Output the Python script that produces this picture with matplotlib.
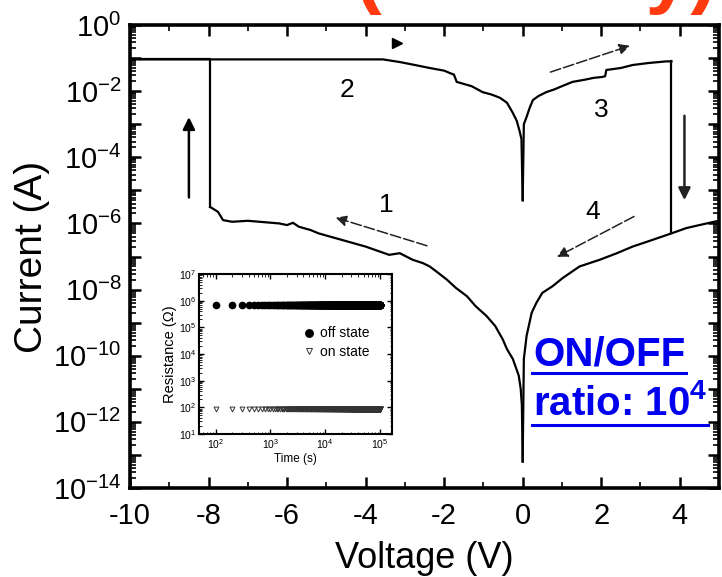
import numpy as np
import matplotlib
matplotlib.use("Agg")
import matplotlib.pyplot as plt
from matplotlib.ticker import LogLocator, FixedLocator, FuncFormatter, NullFormatter
from matplotlib.lines import Line2D

plt.rcParams['font.family'] = ['Liberation Sans', 'DejaVu Sans']
plt.rcParams['mathtext.fontset'] = 'custom'
plt.rcParams['mathtext.rm'] = 'Liberation Sans'
plt.rcParams['mathtext.it'] = 'Liberation Sans:italic'
plt.rcParams['mathtext.bf'] = 'Liberation Sans:bold'
plt.rcParams['axes.unicode_minus'] = False

# ---- I-V sweep data (voltage in V, log10 of current in A) ----
# sweep 1: OFF state, 0 V -> -8 V
v_sweep1 = [0.0, -0.02, -0.05, -0.1, -0.25, -0.4, -0.51, -0.7, -0.92, -1.2, -1.42,
            -1.7, -1.93, -2.2, -2.37, -2.54, -2.8, -3.13, -3.4, -3.64, -4.0, -4.3,
            -4.6, -4.9, -5.2, -5.4, -5.7, -5.85, -6.0, -6.2, -6.6, -7.0, -7.4,
            -7.63, -7.76, -7.96]
logi_sweep1 = [-13.2, -11.5, -11.0, -10.6, -10.1, -9.8, -9.5, -9.1, -8.8, -8.5, -8.2,
               -7.95, -7.7, -7.45, -7.3, -7.2, -7.1, -6.9, -6.95, -6.85, -6.7, -6.6,
               -6.5, -6.4, -6.3, -6.2, -6.1, -5.98, -6.05, -6.0, -5.96, -5.92, -5.95,
               -5.9, -5.65, -5.5]

# SET jump at -8 V and compliance-limited segment out to -10 V
v_set = [-7.96, -7.96, -10.0]
logi_set = [-5.5, -1.04, -1.04]

# sweep 2: ON state, -10 V -> 0 V
v_sweep2 = [-10.0, -3.56, -3.13, -2.7, -2.37, -2.0, -1.86, -1.75, -1.68, -1.3, -1.02,
            -0.8, -0.58, -0.4, -0.25, -0.15, -0.08, -0.03, 0.0]
logi_sweep2 = [-1.04, -1.04, -1.12, -1.22, -1.3, -1.38, -1.45, -1.5, -1.72, -1.85, -2.03,
               -2.1, -2.2, -2.35, -2.66, -2.9, -3.2, -3.45, -5.3]

# sweep 3: ON state, 0 V -> +3.8 V
v_sweep3 = [0.0, 0.03, 0.1, 0.18, 0.26, 0.4, 0.6, 0.8, 1.0, 1.27, 1.6, 1.8, 2.03,
            2.1, 2.13, 2.5, 2.8, 3.2, 3.66, 3.79]
logi_sweep3 = [-5.3, -3.0, -2.78, -2.5, -2.27, -2.15, -2.03, -1.95, -1.85, -1.72, -1.65,
               -1.6, -1.57, -1.55, -1.36, -1.3, -1.21, -1.15, -1.1, -1.1]

# RESET drop at +3.8 V
v_reset = [3.79, 3.79]
logi_reset = [-1.1, -6.3]

# sweep 4: OFF state, +5 V -> 0 V
v_sweep4 = [4.95, 4.84, 4.5, 4.17, 3.79, 3.3, 2.8, 2.4, 1.96, 1.45, 1.02, 0.76,
            0.5, 0.35, 0.23, 0.1, 0.03, 0.0]
logi_sweep4 = [-5.93, -5.96, -6.05, -6.14, -6.3, -6.5, -6.7, -6.9, -7.1, -7.3, -7.65,
               -7.9, -8.1, -8.4, -8.7, -9.4, -10.1, -13.2]

# ---- retention data for the inset ----
time_s = np.arange(100, 100001, 100)
r_off_ohm = 7e5
r_on_ohm = 9e1

x_ticks_major = [-10, -8, -6, -4, -2, 0, 2, 4]

fig = plt.figure(figsize=(7.22, 5.77), dpi=100)
ax = fig.add_axes([130 / 722, 1 - 488 / 577, 589 / 722, 463 / 577])

curve_kw = dict(color='black', lw=1.6, solid_joinstyle='round')
for v, li in [(v_sweep1, logi_sweep1), (v_set, logi_set), (v_sweep2, logi_sweep2),
              (v_sweep3, logi_sweep3), (v_reset, logi_reset), (v_sweep4, logi_sweep4)]:
    ax.plot(v, 10.0 ** np.asarray(li), **curve_kw)

ax.set_yscale('log')
ax.set_xlim(-10, 5)
ax.set_ylim(1e-14, 1e0)

ax.xaxis.set_major_locator(FixedLocator(x_ticks_major))
ax.xaxis.set_minor_locator(FixedLocator(np.arange(-9, 5, 2)))
ax.yaxis.set_major_locator(LogLocator(base=10, numticks=20))
ax.yaxis.set_minor_locator(LogLocator(base=10, subs=np.arange(2, 10), numticks=200))
ax.yaxis.set_minor_formatter(NullFormatter())


def ylab(val, pos):
    e = int(round(np.log10(val)))
    return r'$10^{%d}$' % e if e % 2 == 0 else ''


ax.yaxis.set_major_formatter(FuncFormatter(ylab))
ax.tick_params(which='both', direction='in', top=True, right=True)
ax.tick_params(which='major', length=8, width=1.8, labelsize=21)
ax.tick_params(which='minor', length=4, width=1.2)
ax.tick_params(axis='x', pad=10)
ax.tick_params(axis='y', pad=6)
for s in ax.spines.values():
    s.set_linewidth(2.6)

ax.set_xlabel('Voltage (V)', fontsize=26, labelpad=8)
ax.set_ylabel('Current (A)', fontsize=28, labelpad=2)

# sweep direction arrows and labels
ax.annotate('', xy=(-8.5, 10 ** -2.7), xytext=(-8.5, 10 ** -5.3),
            arrowprops=dict(arrowstyle='-|>', lw=1.8, color='black', mutation_scale=18))
ax.annotate('', xy=(4.12, 10 ** -5.38), xytext=(4.12, 10 ** -2.66),
            arrowprops=dict(arrowstyle='-|>', lw=1.8, color='#222222', mutation_scale=18))
thin = dict(arrowstyle='-|>', lw=1.1, color='#222222', mutation_scale=16,
            linestyle=(0, (7, 2)))
ax.annotate('', xy=(-4.83, 10 ** -5.8), xytext=(-2.37, 10 ** -6.7), arrowprops=thin)
ax.annotate('', xy=(2.8, 10 ** -0.6), xytext=(0.64, 10 ** -1.45), arrowprops=thin)
ax.annotate('', xy=(0.81, 10 ** -7.05), xytext=(2.9, 10 ** -5.75), arrowprops=thin)
ax.plot([-3.2], [10 ** -0.55], marker='>', color='black', ms=7)

for txt, v, li in [('1', -3.46, -5.44), ('2', -4.48, -1.97), ('3', 2.0, -2.57), ('4', 1.78, -5.65)]:
    ax.text(v, 10 ** li, txt, fontsize=19, ha='center', va='center')

# ---- inset: retention of OFF and ON states ----
axi = fig.add_axes([199 / 722, 1 - 434 / 577, 193 / 722, 160 / 577])
axi.plot(time_s, np.full(time_s.size, r_off_ohm), ls='none', marker='o', ms=4.5,
         color='black', label='off state')
axi.plot(time_s, np.full(time_s.size, r_on_ohm), ls='none', marker='v', ms=3.5,
         mfc='none', mec='#333333', mew=0.7, label='on state')
axi.set_xscale('log')
axi.set_yscale('log')
axi.set_xlim(50, 1.65e5)
axi.set_ylim(1e1, 1e7)
axi.xaxis.set_major_locator(FixedLocator([1e2, 1e3, 1e4, 1e5]))
axi.yaxis.set_major_locator(FixedLocator([1e1, 1e2, 1e3, 1e4, 1e5, 1e6, 1e7]))
axi.xaxis.set_minor_locator(LogLocator(base=10, subs=np.arange(2, 10), numticks=50))
axi.yaxis.set_minor_locator(LogLocator(base=10, subs=np.arange(2, 10), numticks=50))
axi.xaxis.set_minor_formatter(NullFormatter())
axi.yaxis.set_minor_formatter(NullFormatter())
axi.tick_params(which='both', direction='in', top=True, right=True)
axi.tick_params(which='major', length=3.5, width=1.0, labelsize=7.5, pad=2)
axi.tick_params(which='minor', length=1.8, width=0.6)
for s in axi.spines.values():
    s.set_linewidth(1.5)
axi.set_xlabel('Time (s)', fontsize=8.5, labelpad=2)
axi.set_ylabel('Resistance (\u03a9)', fontsize=10.5, labelpad=1)
axi.legend(loc='center left', bbox_to_anchor=(0.47, 0.57), frameon=False, fontsize=10,
           handletextpad=0.3, labelspacing=0.35, handlelength=1.0, markerscale=1.2)

# ---- annotations on the figure ----
fig.text(355 / 722, 1 - 15 / 577, '(Memory)', color='#ff3a10', fontsize=58,
         fontweight='bold', ha='left', va='bottom')

blue = '#0000ee'
t1 = fig.text(533 / 722, 1 - 365 / 577, 'ON/OFF', color=blue, fontsize=29,
              fontweight='bold', ha='left', va='baseline')
t2 = fig.text(533 / 722, 1 - 415 / 577, r'ratio: 10$^{\mathbf{4}}$', color=blue, fontsize=29,
              fontweight='bold', ha='left', va='baseline')
fig.canvas.draw()
rend = fig.canvas.get_renderer()
W, H = fig.bbox.width, fig.bbox.height
for t, y_px in [(t1, 373), (t2, 425)]:
    bb = t.get_window_extent(rend)
    fig.add_artist(Line2D([(bb.x0 - 1) / W, (bb.x1 + 1) / W], [1 - y_px / 577] * 2,
                          transform=fig.transFigure, color=blue, lw=2.2))

fig.savefig('out.png', dpi=100)
